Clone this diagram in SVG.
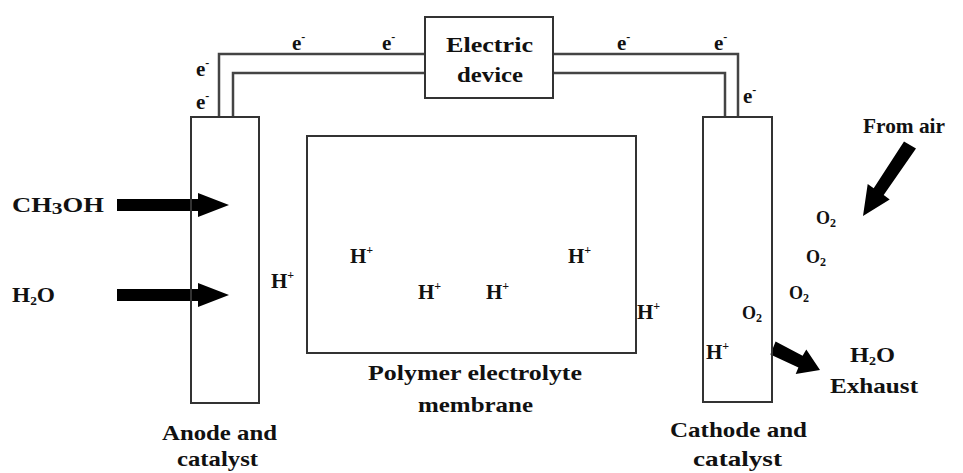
<svg xmlns="http://www.w3.org/2000/svg" width="963" height="473" viewBox="0 0 963 473">
<style>
.t{font-family:"Liberation Serif","Times New Roman",serif;font-weight:bold;font-size:21px;fill:#111}
.s{font-size:12px}
.box{fill:none;stroke:#333;stroke-width:2}
.wire{fill:none;stroke:#444;stroke-width:2.5}
.arr{fill:#000}
</style>
<rect width="963" height="473" fill="#fff"/>
<g id="connectors">
<polyline class="wire" points="219,117 219,54 425,54"/>
<polyline class="wire" points="233,117 233,73 425,73"/>
<polyline class="wire" points="553,54 738,54 738,117"/>
<polyline class="wire" points="553,73 725,73 725,117"/>
<polygon class="arr" points="117,199 198,199 198,193 229,205 198,217 198,211 117,211"/>
<polygon class="arr" points="117,289 198,289 198,283 229,295 198,307 198,301 117,301"/>
<polygon class="arr" points="916,148.4 883.7,195.1 889.7,199.4 863,216 867.7,184 873.7,188.3 904,141.6"/>
<polygon class="arr" points="775.6,341.6 802.6,355.8 806.3,349.4 820,370 795.7,374 798.4,367.6 770.4,354.4"/>
</g>
<g id="device">
<rect class="box" x="425" y="17" width="128" height="81"/>
<text class="t" x="446" y="52" textLength="87" lengthAdjust="spacingAndGlyphs">Electric</text>
<text class="t" x="457" y="82" textLength="66" lengthAdjust="spacingAndGlyphs">device</text>
</g>
<g id="anode">
<rect class="box" x="191" y="117" width="68" height="286"/>
<text class="t" x="162" y="440" textLength="115" lengthAdjust="spacingAndGlyphs">Anode and</text>
<text class="t" x="177" y="466" textLength="81" lengthAdjust="spacingAndGlyphs">catalyst</text>
</g>
<g id="membrane">
<rect class="box" x="307" y="136" width="329" height="217"/>
<text class="t" x="368" y="380" textLength="214" lengthAdjust="spacingAndGlyphs">Polymer electrolyte</text>
<text class="t" x="418" y="412" textLength="115" lengthAdjust="spacingAndGlyphs">membrane</text>
</g>
<g id="cathode">
<rect class="box" x="703" y="117" width="69" height="285"/>
<text class="t" x="670" y="437" textLength="137" lengthAdjust="spacingAndGlyphs">Cathode and</text>
<text class="t" x="693" y="466" textLength="89" lengthAdjust="spacingAndGlyphs">catalyst</text>
</g>
<g id="labels">
<text class="t" x="196" y="76">e<tspan class="s" dy="-9">-</tspan></text>
<text class="t" x="196" y="109">e<tspan class="s" dy="-9">-</tspan></text>
<text class="t" x="292" y="50">e<tspan class="s" dy="-9">-</tspan></text>
<text class="t" x="382" y="50">e<tspan class="s" dy="-9">-</tspan></text>
<text class="t" x="617" y="50">e<tspan class="s" dy="-9">-</tspan></text>
<text class="t" x="714" y="50">e<tspan class="s" dy="-9">-</tspan></text>
<text class="t" x="743" y="103">e<tspan class="s" dy="-9">-</tspan></text>
<text class="t" x="12" y="212" textLength="92" lengthAdjust="spacingAndGlyphs">CH<tspan style="font-size:17px" dy="2">3</tspan><tspan dy="-2">OH</tspan></text>
<text class="t" x="12" y="302" textLength="43" lengthAdjust="spacingAndGlyphs">H<tspan class="s" dy="3">2</tspan><tspan dy="-3">O</tspan></text>
<text class="t" x="863" y="133" textLength="82" lengthAdjust="spacingAndGlyphs">From air</text>
<text class="t" x="271" y="288">H<tspan class="s" dy="-9">+</tspan></text>
<text class="t" x="350" y="263">H<tspan class="s" dy="-9">+</tspan></text>
<text class="t" x="418" y="299">H<tspan class="s" dy="-9">+</tspan></text>
<text class="t" x="486" y="299">H<tspan class="s" dy="-9">+</tspan></text>
<text class="t" x="568" y="263">H<tspan class="s" dy="-9">+</tspan></text>
<text class="t" x="637" y="319">H<tspan class="s" dy="-9">+</tspan></text>
<text class="t" x="706" y="359">H<tspan class="s" dy="-9">+</tspan></text>
<text class="t" x="816" y="224" style="font-size:18px">O<tspan class="s" dy="3">2</tspan></text>
<text class="t" x="806" y="263" style="font-size:18px">O<tspan class="s" dy="3">2</tspan></text>
<text class="t" x="789" y="299" style="font-size:18px">O<tspan class="s" dy="3">2</tspan></text>
<text class="t" x="742" y="319" style="font-size:18px">O<tspan class="s" dy="3">2</tspan></text>
<text class="t" x="850" y="362" textLength="45" lengthAdjust="spacingAndGlyphs">H<tspan class="s" dy="3">2</tspan><tspan dy="-3">O</tspan></text>
<text class="t" x="830" y="393" textLength="88" lengthAdjust="spacingAndGlyphs">Exhaust</text>
</g>
</svg>
